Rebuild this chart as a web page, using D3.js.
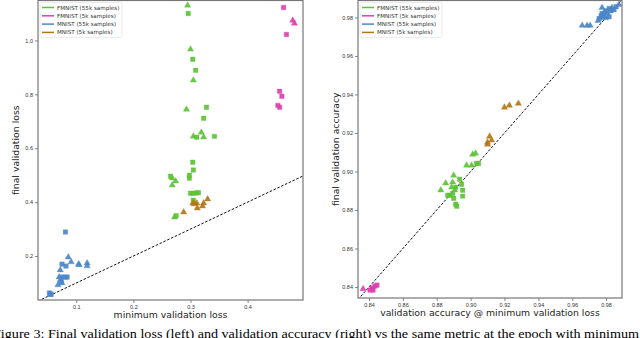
<!DOCTYPE html>
<html>
<head>
<meta charset="utf-8">
<script src="https://cdn.jsdelivr.net/npm/d3@7"></script>
<style>
  body { margin: 0; background: #fff; overflow: hidden; }
  svg { display: block; font-family: "DejaVu Sans", sans-serif; }
</style>
</head>
<body>
<svg id="chart" width="640" height="338"></svg>
<script>
// series names, in legend order
const SERIES = ["FMNIST (55k samples)", "FMNIST (5k samples)", "MNIST (55k samples)", "MNIST (5k samples)"];
const COLORS = ["#5bc236", "#de3fae", "#4b87c9", "#b27613"];

// each point: [metric at min-loss epoch, final metric, run group ("a" = square, "b" = triangle)]
// left panel: validation loss
const lossFmnist55 = [
    [0.295, 1.130, "b"], [0.296, 1.100, "a"], [0.300, 0.967, "b"], [0.304, 0.930, "a"],
    [0.309, 0.889, "a"], [0.305, 0.852, "b"], [0.293, 0.744, "b"], [0.328, 0.752, "a"],
    [0.323, 0.711, "a"], [0.319, 0.659, "b"], [0.305, 0.644, "b"], [0.311, 0.641, "a"],
    [0.323, 0.641, "b"], [0.342, 0.644, "a"], [0.304, 0.548, "a"], [0.305, 0.519, "a"],
    [0.298, 0.500, "a"], [0.298, 0.489, "a"], [0.265, 0.496, "a"], [0.268, 0.489, "b"],
    [0.274, 0.478, "b"], [0.268, 0.463, "b"], [0.300, 0.433, "a"], [0.305, 0.433, "a"],
    [0.310, 0.434, "a"], [0.314, 0.435, "a"], [0.305, 0.407, "a"], [0.272, 0.344, "b"],
    [0.275, 0.350, "a"]
];
const lossFmnist5 = [
    [0.463, 1.122, "a"], [0.479, 1.074, "b"], [0.482, 1.063, "b"], [0.468, 1.022, "a"],
    [0.456, 0.811, "a"], [0.460, 0.793, "a"], [0.453, 0.759, "a"], [0.456, 0.752, "a"]
];
const lossMnist55 = [
    [0.081, 0.289, "a"], [0.086, 0.196, "b"], [0.091, 0.178, "b"], [0.075, 0.170, "a"],
    [0.082, 0.163, "a"], [0.104, 0.170, "b"], [0.105, 0.167, "b"], [0.119, 0.174, "b"],
    [0.119, 0.163, "b"], [0.072, 0.148, "b"], [0.070, 0.122, "b"], [0.075, 0.122, "a"],
    [0.081, 0.122, "a"], [0.084, 0.122, "a"], [0.072, 0.111, "b"], [0.068, 0.093, "b"],
    [0.075, 0.100, "b"], [0.074, 0.104, "a"], [0.053, 0.063, "a"], [0.056, 0.059, "a"],
    [0.054, 0.056, "b"]
];
const lossMnist5 = [
    [0.288, 0.363, "b"], [0.307, 0.393, "b"], [0.311, 0.396, "b"], [0.312, 0.378, "b"],
    [0.321, 0.385, "b"], [0.323, 0.396, "b"], [0.330, 0.411, "b"], [0.304, 0.396, "b"]
];

// right panel: validation accuracy
const accFmnist55 = [
    [0.9012, 0.9089, "b"], [0.9029, 0.9094, "b"], [0.9035, 0.9042, "a"], [0.9047, 0.9042, "a"],
    [0.8976, 0.9032, "b"], [0.9006, 0.9032, "b"], [0.8900, 0.8980, "b"], [0.8853, 0.8939, "b"],
    [0.8824, 0.8903, "b"], [0.8865, 0.8877, "a"], [0.8882, 0.8877, "a"], [0.8894, 0.8887, "a"],
    [0.8906, 0.8903, "b"], [0.8912, 0.8918, "a"], [0.8935, 0.8960, "a"], [0.8947, 0.8934, "a"],
    [0.8953, 0.8903, "a"], [0.8900, 0.8861, "a"], [0.8953, 0.8872, "a"], [0.8912, 0.8830, "a"],
    [0.8918, 0.8820, "a"], [0.8888, 0.8918, "b"], [0.8894, 0.8944, "b"]
];
const accFmnist5 = [
    [0.8365, 0.8390, "b"], [0.8418, 0.8395, "a"], [0.8424, 0.8384, "a"], [0.8447, 0.8410, "a"],
    [0.8435, 0.8405, "a"], [0.8406, 0.8384, "a"]
];
const accMnist55 = [
    [0.9776, 0.9851, "b"], [0.9659, 0.9758, "b"], [0.9688, 0.9758, "b"], [0.9706, 0.9758, "b"],
    [0.9759, 0.9794, "a"], [0.9771, 0.9809, "a"], [0.9776, 0.9820, "a"], [0.9788, 0.9825, "b"],
    [0.9800, 0.9835, "a"], [0.9818, 0.9846, "a"], [0.9835, 0.9851, "b"], [0.9859, 0.9856, "a"],
    [0.9876, 0.9866, "b"], [0.9800, 0.9799, "a"], [0.9818, 0.9804, "a"], [0.9776, 0.9799, "a"],
    [0.9788, 0.9809, "b"], [0.9806, 0.9825, "a"], [0.9829, 0.9835, "a"], [0.9847, 0.9840, "a"],
    [0.9753, 0.9783, "b"]
];
const accMnist5 = [
    [0.9200, 0.9333, "b"], [0.9229, 0.9343, "b"], [0.9282, 0.9353, "b"], [0.9112, 0.9182, "b"],
    [0.9100, 0.9151, "b"], [0.9100, 0.9141, "b"], [0.9124, 0.9162, "b"]
];

const LOSS_X_TICKS = [0.1, 0.2, 0.3, 0.4];
const LOSS_Y_TICKS = [0.2, 0.4, 0.6, 0.8, 1.0];
const ACC_TICKS = [0.84, 0.86, 0.88, 0.90, 0.92, 0.94, 0.96, 0.98];

const CAPTION = "Figure 3: Final validation loss (left) and validation accuracy (right) vs the same metric at the epoch with minimum";

const SHAPES = { a: d3.symbolSquare, b: d3.symbolTriangle };

const svg = d3.select("#chart");

function drawPanel(opts) {
    const x = d3.scaleLinear().domain(opts.xDomain).range([opts.left, opts.right]);
    const y = d3.scaleLinear().domain(opts.yDomain).range([opts.bottom, opts.top]);
    const g = svg.append("g");

    const clipId = "clip-" + opts.id;
    g.append("clipPath").attr("id", clipId)
        .append("rect")
        .attr("x", opts.left).attr("y", opts.top)
        .attr("width", opts.right - opts.left).attr("height", opts.bottom - opts.top);

    // axes with small outward ticks
    const xAxis = g.append("g")
        .attr("transform", `translate(0,${opts.bottom})`)
        .call(d3.axisBottom(x).tickValues(opts.xTicks).tickFormat(d3.format(opts.fmt)).tickSize(3).tickPadding(2));
    const yAxis = g.append("g")
        .attr("transform", `translate(${opts.left},0)`)
        .call(d3.axisLeft(y).tickValues(opts.yTicks).tickFormat(d3.format(opts.fmt)).tickSize(3).tickPadding(2));
    [xAxis, yAxis].forEach((a) => {
        a.select(".domain").remove();
        a.selectAll(".tick line").attr("stroke", "#666").attr("stroke-width", 0.8);
        a.selectAll(".tick text").attr("fill", "#333").style("font-size", "5.5px");
    });

    // y = x reference
    const lo = Math.min(opts.xDomain[0], opts.yDomain[0]);
    const hi = Math.max(opts.xDomain[1], opts.yDomain[1]);
    g.append("line")
        .attr("clip-path", `url(#${clipId})`)
        .attr("x1", x(lo)).attr("y1", y(lo))
        .attr("x2", x(hi)).attr("y2", y(hi))
        .attr("stroke", "#111")
        .attr("stroke-width", 1)
        .attr("stroke-dasharray", "2.6,1.6");

    // markers
    opts.data.forEach((series, i) => {
        g.append("g").attr("clip-path", `url(#${clipId})`)
            .selectAll("path")
            .data(series)
            .enter()
            .append("path")
            .attr("transform", (d) => `translate(${x(d[0])},${y(d[1])})`)
            .attr("d", (d) => d3.symbol().type(SHAPES[d[2]]).size(d[2] === "a" ? 20 : 17)())
            .attr("fill", COLORS[i])
            .attr("fill-opacity", 0.92)
            .attr("stroke", COLORS[i])
            .attr("stroke-opacity", 0.35)
            .attr("stroke-width", 1);
    });

    // frame
    g.append("rect")
        .attr("x", opts.left).attr("y", opts.top)
        .attr("width", opts.right - opts.left).attr("height", opts.bottom - opts.top)
        .attr("fill", "none")
        .attr("stroke", "#777")
        .attr("stroke-width", 1.2);

    // legend
    const lg = g.append("g").attr("transform", `translate(${opts.left + 2},${opts.top + 2})`);
    lg.append("rect")
        .attr("width", 82).attr("height", 35).attr("rx", 1.5)
        .attr("fill", "#fff").attr("fill-opacity", 0.9)
        .attr("stroke", "#ddd").attr("stroke-width", 0.6);
    SERIES.forEach((name, i) => {
        const row = 5 + i * 8.3;
        lg.append("line")
            .attr("x1", 2).attr("x2", 14)
            .attr("y1", row).attr("y2", row)
            .attr("stroke", COLORS[i]).attr("stroke-width", 1.5);
        lg.append("text")
            .attr("x", 17).attr("y", row + 2)
            .attr("fill", "#333")
            .style("font-size", "5.6px")
            .text(name);
    });

    // axis labels
    g.append("text")
        .attr("x", (opts.left + opts.right) / 2)
        .attr("y", opts.bottom + 18)
        .attr("text-anchor", "middle")
        .attr("fill", "#222")
        .style("font-size", "9.3px")
        .text(opts.xLabel);
    g.append("text")
        .attr("transform", `translate(${opts.left - 19},${(opts.top + opts.bottom) / 2}) rotate(-90)`)
        .attr("text-anchor", "middle")
        .attr("fill", "#222")
        .style("font-size", "9.3px")
        .text(opts.yLabel);
}

drawPanel({
    id: "loss",
    left: 38, right: 303, top: 0.5, bottom: 300,
    xDomain: [0.033, 0.497], yDomain: [0.037, 1.148],
    xTicks: LOSS_X_TICKS, yTicks: LOSS_Y_TICKS, fmt: ".1f",
    data: [lossFmnist55, lossFmnist5, lossMnist55, lossMnist5],
    xLabel: "minimum validation loss",
    yLabel: "final validation loss"
});

drawPanel({
    id: "acc",
    left: 358, right: 622, top: 0.5, bottom: 298,
    xDomain: [0.8335, 0.9894], yDomain: [0.8343, 0.9888],
    xTicks: ACC_TICKS, yTicks: ACC_TICKS, fmt: ".2f",
    data: [accFmnist55, accFmnist5, accMnist55, accMnist5],
    xLabel: "validation accuracy @ minimum validation loss",
    yLabel: "final validation accuracy"
});

// paper caption, cut off by the frame
svg.append("text")
    .attr("x", -7)
    .attr("y", 338)
    .attr("textLength", 646)
    .attr("lengthAdjust", "spacingAndGlyphs")
    .attr("fill", "#000")
    .style("font-family", "'Liberation Serif', 'Times New Roman', serif")
    .style("font-size", "13.5px")
    .text(CAPTION);
</script>
</body>
</html>
